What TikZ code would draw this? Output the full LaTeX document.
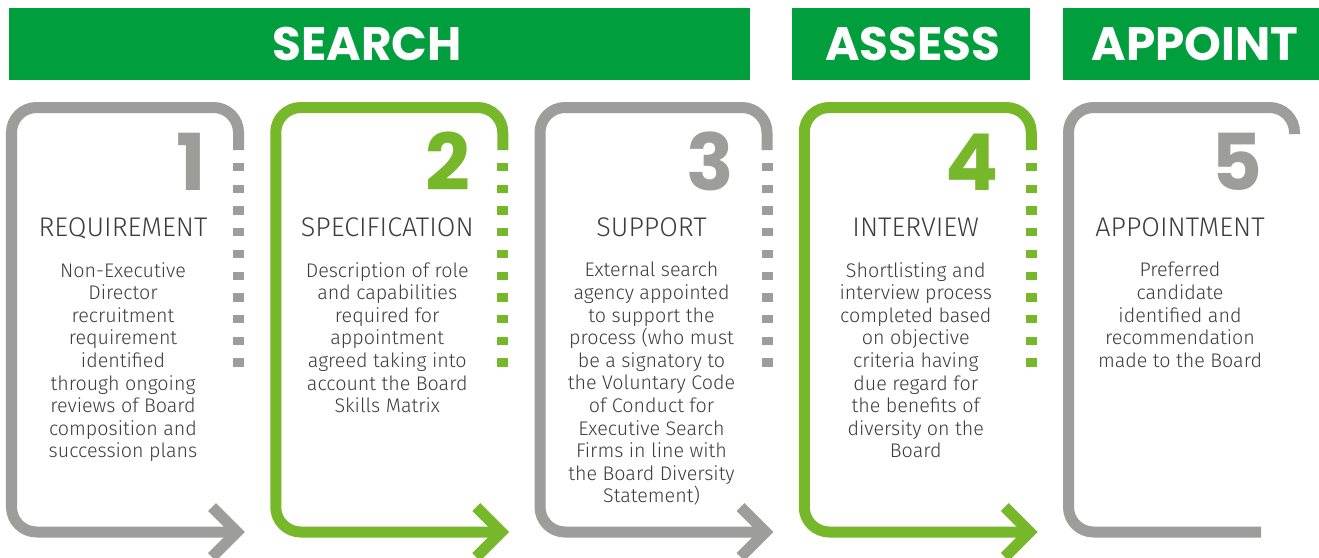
\documentclass[tikz,border=0pt]{standalone}
\usepackage{fontspec}
\setmainfont{Fira Sans Light}
\newfontfamily\headfont{Poppins}
\definecolor{hdgreen}{HTML}{009E3D}
\definecolor{stepgreen}{HTML}{76B82A}
\definecolor{stepgray}{HTML}{9D9D9C}
\definecolor{txtgray}{HTML}{3C3C3B}

\begin{document}
\begin{tikzpicture}[x=0.03cm, y=-0.03cm, line cap=butt,
    stepframe/.style={line width=0.33cm, rounded corners=0.75cm},
    chevron/.style={line width=0.33cm, miter limit=10},
    banner/.style={fill=hdgreen},
    bannertext/.style={text=white, inner sep=0pt,
                       font=\headfont\bfseries\fontsize{40}{40}\selectfont},
    num/.style={anchor=base east, inner sep=0pt,
                font=\headfont\bfseries\fontsize{67}{67}\selectfont},
    ttl/.style={anchor=base, inner sep=0pt, text=txtgray,
                font=\fontsize{23}{27}\selectfont},
    body/.style={anchor=north, inner sep=0pt, align=center, text=txtgray,
                 font=\fontsize{16.8}{19.3}\selectfont}]

  \fill[white] (0,0) rectangle (1319,557);
  \useasboundingbox (0,0) rectangle (1319,557);

  % ---- stage banners -------------------------------------------------------
  \fill[banner] (9,8) rectangle (750,80);
  \node[bannertext] (search) at (367,44) {SEARCH};
  \fill[banner] (792,8) rectangle (1030,80);
  \node[bannertext] (assess) at (913,44) {ASSESS};
  \fill[banner] (1063,8) rectangle (1319,80);
  \node[bannertext] (appoint) at (1195,44) {APPOINT};

  % ---- steps 1-4: open frame, dotted right side, chevron into the next -----
  \foreach \k/\c in {1/stepgray, 2/stepgreen, 3/stepgray, 4/stepgreen}{
    \pgfmathsetmacro{\L}{6+264.25*(\k-1)}
    \draw[stepframe, draw=\c] (\L+232.5,150) -- (\L+232.5,107.5)
      -- (\L+5.5,107.5) -- (\L+5.5,532) -- (\L+231,532);
    \foreach \i in {0,...,9}{
      \fill[\c] (\L+227,163+21.7*\i) rectangle ++(11,8.3);}
    \draw[chevron, draw=\c] (\L+206,507) -- (\L+231,532) -- (\L+206,557);}

  % ---- step 5: closes the row, no chevron ----------------------------------
  \draw[stepframe, draw=stepgray] (1294.5,134) -- (1294.5,107.5)
    -- (1068.5,107.5) -- (1068.5,532) -- (1261,532);

  % ---- numbers, headings and descriptions ----------------------------------
  \foreach \k/\c/\t/\b in {
    1/stepgray/REQUIREMENT/{Non-Executive\\Director\\recruitment\\requirement\\identified\\through ongoing\\reviews of Board\\composition and\\succession plans},
    2/stepgreen/SPECIFICATION/{Description of role\\and capabilities\\required for\\appointment\\agreed taking into\\account the Board\\Skills Matrix},
    3/stepgray/SUPPORT/{External search\\agency appointed\\to support the\\process (who must\\be a signatory to\\the Voluntary Code\\of Conduct for\\Executive Search\\Firms in line with\\the Board Diversity\\Statement)},
    4/stepgreen/INTERVIEW/{Shortlisting and\\interview process\\completed based\\on objective\\criteria having\\due regard for\\the benefits of\\diversity on the\\Board},
    5/stepgray/APPOINTMENT/{Preferred\\candidate\\identified and\\recommendation\\made to the Board}}{
    \pgfmathsetmacro{\L}{6+264.25*(\k-1)}
    \node[num, text=\c] (num\k) at (\L+200,190) {\k};
    \node[ttl] (title\k) at (\L+117,236) {\t};
    \node[body] (body\k) at (\L+117,262) {\b};}
\end{tikzpicture}
\end{document}
